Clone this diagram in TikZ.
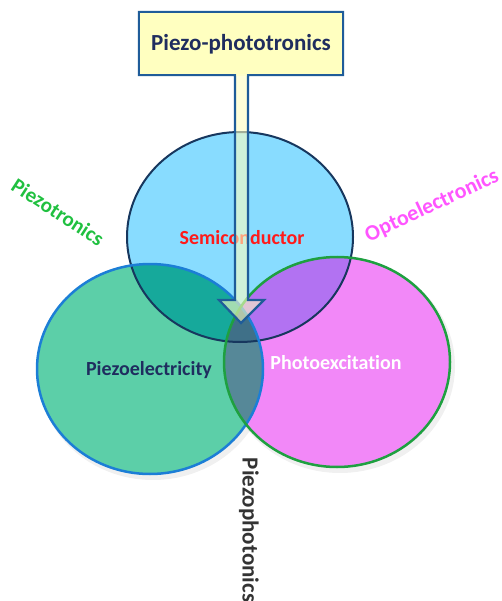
\documentclass[tikz,border=0pt]{standalone}
\usepackage{fontspec}
\setmainfont[Ligatures=NoCommon]{Carlito}
\usetikzlibrary{shapes.geometric,calc}
\definecolor{semiF}{HTML}{88DCFF}
\definecolor{piezoF}{HTML}{5CCFA8}
\definecolor{photoF}{HTML}{F288F8}
\definecolor{tlF}{HTML}{16A99B}
\definecolor{trF}{HTML}{B272F2}
\definecolor{lrF}{HTML}{568898}
\definecolor{triF}{HTML}{3F7088}
\definecolor{semiB}{HTML}{17375E}
\definecolor{piezoB}{HTML}{1C7ED6}
\definecolor{photoB}{HTML}{1EA040}
\definecolor{navyT}{HTML}{1F2D5F}
\definecolor{redT}{HTML}{FF1A1A}
\definecolor{greenT}{HTML}{20C040}
\definecolor{pinkT}{HTML}{FF55FF}
\definecolor{grayT}{HTML}{333333}
\definecolor{boxF}{HTML}{FFFFC0}
\definecolor{boxB}{HTML}{1F5C99}
\tikzset{
  ell/.style={x radius=113, y radius=105},
  lbl/.style={font=\bfseries\fontsize{20}{24}\selectfont, inner sep=0pt},
}
\begin{document}
\begin{tikzpicture}[x=1pt,y=-1pt]
\useasboundingbox (0,0) rectangle (501,601);
\coordinate (cT) at (240,237);
\coordinate (cL) at (150,369);
\coordinate (cR) at (337,362);
% soft shadows
\fill[black, opacity=0.06] ($(cL)+(3,4)$) ellipse [x radius=115, y radius=107];
\fill[black, opacity=0.06] ($(cR)+(3,4)$) ellipse [x radius=115, y radius=107];
% base fills
\fill[semiF] (cT) ellipse [ell];
\fill[piezoF] (cL) ellipse [ell];
\fill[photoF] (cR) ellipse [ell];
% overlaps
\begin{scope}
  \clip (cT) ellipse [ell];
  \fill[tlF] (cL) ellipse [ell];
  \fill[trF] (cR) ellipse [ell];
\end{scope}
\begin{scope}
  \clip (cL) ellipse [ell];
  \fill[lrF] (cR) ellipse [ell];
\end{scope}
\begin{scope}
  \clip (cT) ellipse [ell];
  \clip (cL) ellipse [ell];
  \fill[triF] (cR) ellipse [ell];
\end{scope}
% borders
\draw[semiB, line width=2pt] (cT) ellipse [ell];
\draw[piezoB, line width=2.5pt] (cL) ellipse [ell];
\draw[photoB, line width=2.5pt] (cR) ellipse [ell];
% labels
\node[lbl, text=redT] (semi) at (242,238) {Semiconductor};
\node[lbl, text=navyT] (piezo) at (149,370) {Piezoelectricity};
\node[lbl, text=white] (photo) at (336,363) {Photoexcitation};
\node[lbl, text=greenT, rotate=-33, font=\bfseries\fontsize{21}{24}\selectfont] (ptron) at (58,212) {Piezotronics};
\node[lbl, text=pinkT, rotate=25, font=\bfseries\fontsize{22}{24}\selectfont] (opto) at (432,206) {Optoelectronics};
\node[lbl, text=grayT, rotate=-90, font=\bfseries\fontsize{23}{26}\selectfont] (pphot) at (249,530) {Piezophotonics};
% callout arrow
\filldraw[fill=boxF, fill opacity=0.6, draw=boxB, line width=2.2pt, line join=miter]
  (139,12) -- (343,12) -- (343,75) -- (248,75) -- (248,300) -- (264,300) -- (241,323)
  -- (219,300) -- (235,300) -- (235,75) -- (139,75) -- cycle;
\fill[boxF] (140.1,13.1) rectangle (341.9,73.9);
\fill[boxF, opacity=0.6] (236.1,73) rectangle (246.9,76.2);
\node[lbl, text=navyT, font=\bfseries\fontsize{23}{26}\selectfont] (box) at (241,44) {Piezo-phototronics};
\end{tikzpicture}
\end{document}
